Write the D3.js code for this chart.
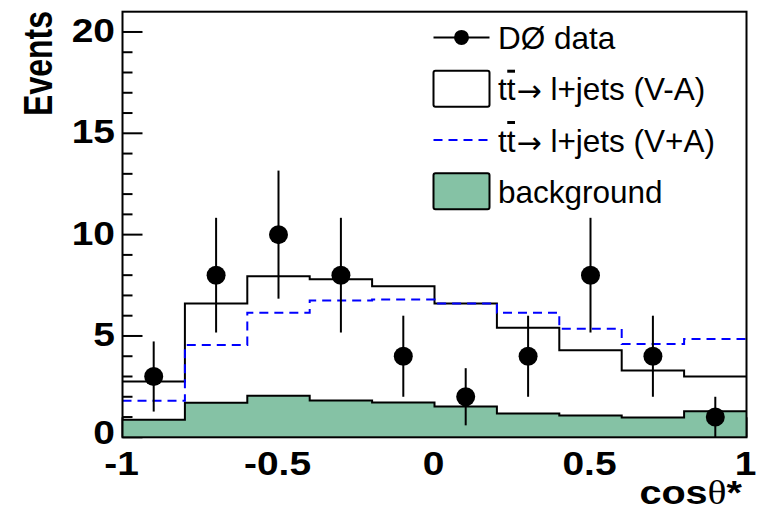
<!DOCTYPE html>
<html>
<head>
<meta charset="utf-8">
<script src="https://cdn.jsdelivr.net/npm/d3@7"></script>
<style>
body { margin: 0; background: #fff; }
svg { display: block; }
</style>
</head>
<body>
<script>
// 0. data (10 bins of width 0.2 in cos theta*)
var binLow = [-1, -0.8, -0.6, -0.4, -0.2, 0, 0.2, 0.4, 0.6, 0.8];
var binHigh = 1;
var vMinusA = [2.75, 6.6, 7.95, 7.8, 7.45, 6.6, 5.4, 4.3, 3.3, 3.0];
var vPlusA = [1.8, 4.55, 6.15, 6.75, 6.8, 6.6, 6.15, 5.35, 4.6, 4.85];
var background = [0.87, 1.7, 2.05, 1.82, 1.72, 1.52, 1.17, 1.08, 0.98, 1.28];
var dataX = [-0.9, -0.7, -0.5, -0.3, -0.1, 0.1, 0.3, 0.5, 0.7, 0.9];
var dataY = [3, 8, 10, 8, 4, 2, 4, 8, 4, 1];
var dataErr = [1.73, 2.83, 3.16, 2.83, 2, 1.41, 2, 2.83, 2, 1];
var xTicks = [-1, -0.5, 0, 0.5, 1];
var xTickLabels = ['-1', '-0.5', '0', '0.5', '1'];
var yTicks = [0, 5, 10, 15, 20];
var legendLabels = ['DØ data', 'l+jets (V-A)', 'l+jets (V+A)', 'background'];

// 1. sizes
var width = 762, height = 510;
var frame = {left: 122.5, right: 746.5, top: 11.7, bottom: 437.3};
var bgColor = '#85c2a5';
var font = "'Liberation Sans', Arial, Helvetica, sans-serif";
var wide = 1.18; // the axis texts of the original are drawn a bit wider than Arial bold

var svg = d3.select('body').append('svg')
    .attr('width', width)
    .attr('height', height);

var x = d3.scaleLinear().domain([-1, 1]).range([frame.left, frame.right]);
var y = d3.scaleLinear().domain([0, 21]).range([frame.bottom, frame.top]);

// helper: histogram as step points (edge, value) + closing point
function stepPoints(vals) {
    var pts = binLow.map(function(e, i) { return [e, vals[i]]; });
    pts.push([binHigh, vals[vals.length - 1]]);
    return pts;
}

// 2. axes ticks (drawn first, the fill hides most of the x ticks like in the original)
var ticksG = svg.append('g').attr('class', 'ticks')
    .attr('stroke', '#000').attr('stroke-width', 2);
d3.range(0, 21).forEach(function(v) {
    var len = (v % 5 === 0) ? 20 : 10;
    ticksG.append('line')
        .attr('x1', frame.left).attr('x2', frame.left + len)
        .attr('y1', y(v)).attr('y2', y(v));
});
d3.range(-1, 1.0001, 0.1).forEach(function(v) {
    var len = (Math.abs(v * 2 - Math.round(v * 2)) < 1e-6) ? 20 : 10;
    ticksG.append('line')
        .attr('x1', x(v)).attr('x2', x(v))
        .attr('y1', frame.bottom).attr('y2', frame.bottom - len);
});

// 3. histograms
var area = d3.area().curve(d3.curveStepAfter)
    .x(function(d) { return x(d[0]); })
    .y0(y(0))
    .y1(function(d) { return y(d[1]); });
var line = d3.line().curve(d3.curveStepAfter)
    .x(function(d) { return x(d[0]); })
    .y(function(d) { return y(d[1]); });

svg.append('path')
    .attr('d', area(stepPoints(background)))
    .attr('fill', bgColor);
svg.append('path')
    .attr('d', line(stepPoints(background)))
    .attr('fill', 'none').attr('stroke', '#000').attr('stroke-width', 2);

svg.append('path')
    .attr('d', line(stepPoints(vMinusA)))
    .attr('fill', 'none').attr('stroke', '#000').attr('stroke-width', 2);

svg.append('path')
    .attr('d', line(stepPoints(vPlusA)))
    .attr('fill', 'none').attr('stroke', '#0000ff').attr('stroke-width', 2)
    .attr('stroke-dasharray', '9,6');

// 4. frame
svg.append('rect')
    .attr('x', frame.left).attr('y', frame.top)
    .attr('width', frame.right - frame.left).attr('height', frame.bottom - frame.top)
    .attr('fill', 'none').attr('stroke', '#000').attr('stroke-width', 2);

// 5. data points with error bars
var pts = svg.append('g').attr('class', 'datapoints');
dataX.forEach(function(v, i) {
    pts.append('line')
        .attr('x1', x(v)).attr('x2', x(v))
        .attr('y1', y(Math.max(0, dataY[i] - dataErr[i])))
        .attr('y2', y(dataY[i] + dataErr[i]))
        .attr('stroke', '#000').attr('stroke-width', 2);
    pts.append('circle')
        .attr('cx', x(v)).attr('cy', y(dataY[i]))
        .attr('r', 9.5).attr('fill', '#000');
});

// 6. tick labels
svg.selectAll('.ylab').data(yTicks).enter().append('text')
    .attr('class', 'ylab')
    .attr('transform', function(d) { return 'translate(115,' + y(d) + ') scale(' + wide + ',1)'; })
    .attr('dy', function(d) { return d === 0 ? '0.2em' : '0.3em'; })
    .attr('text-anchor', 'end')
    .attr('font-family', font).attr('font-weight', 'bold').attr('font-size', 33)
    .text(function(d) { return d; });

svg.selectAll('.xlab').data(xTicks).enter().append('text')
    .attr('class', 'xlab')
    .attr('transform', function(d) { return 'translate(' + (x(d) - 1) + ',475) scale(' + wide + ',1)'; })
    .attr('text-anchor', 'middle')
    .attr('font-family', font).attr('font-weight', 'bold').attr('font-size', 33)
    .text(function(d, i) { return xTickLabels[i]; });

// 7. axis titles
svg.append('text')
    .attr('transform', 'translate(52,11) scale(1.28,1) rotate(-90)')
    .attr('text-anchor', 'end')
    .attr('font-family', font).attr('font-weight', 'bold').attr('font-size', 32)
    .text('Events');

var xt = svg.append('text')
    .attr('transform', 'translate(742,504) scale(1.2,1)')
    .attr('text-anchor', 'end')
    .attr('font-family', font).attr('font-weight', 'bold').attr('font-size', 33);
xt.append('tspan').text('cos');
xt.append('tspan').attr('font-family', "'Liberation Serif', serif").attr('font-weight', 'normal').text('θ');
xt.append('tspan').text('*');

// 8. legend (no border)
var leg = svg.append('g').attr('class', 'legend');
var symL = 433.5, symR = 489.5, txtX = 498;
var rowY = [37.4, 88.7, 140, 191.3];

leg.append('line')
    .attr('x1', symL).attr('x2', symR).attr('y1', rowY[0]).attr('y2', rowY[0])
    .attr('stroke', '#000').attr('stroke-width', 2);
leg.append('circle').attr('cx', (symL + symR) / 2).attr('cy', rowY[0]).attr('r', 7.5).attr('fill', '#000');

leg.append('rect')
    .attr('x', symL).attr('y', rowY[1] - 18).attr('width', symR - symL).attr('height', 36)
    .attr('rx', 2).attr('fill', '#fff').attr('stroke', '#000').attr('stroke-width', 2);

leg.append('line')
    .attr('x1', symL).attr('x2', symR).attr('y1', rowY[2]).attr('y2', rowY[2])
    .attr('stroke', '#0000ff').attr('stroke-width', 2).attr('stroke-dasharray', '9,6');

leg.append('rect')
    .attr('x', symL).attr('y', rowY[3] - 18).attr('width', symR - symL).attr('height', 36)
    .attr('rx', 2).attr('fill', bgColor).attr('stroke', '#000').attr('stroke-width', 2);

legendLabels.forEach(function(lab, i) {
    var t = leg.append('text')
        .attr('x', txtX).attr('y', rowY[i] + 11.5)
        .attr('font-family', font).attr('font-size', 31.5).attr('fill', '#000');
    if (i === 1 || i === 2) {
        // t tbar -> decay label
        t.append('tspan').text('tt');
        t.append('tspan').attr('font-family', "'DejaVu Sans', sans-serif").attr('font-size', 30)
            .attr('dx', 1).attr('dy', 1).text('→');
        t.append('tspan').attr('dy', -1).text(' ' + lab);
        var s = t.node().getStartPositionOfChar(1);
        var e = t.node().getEndPositionOfChar(1);
        leg.append('line')
            .attr('x1', s.x + 0.5).attr('x2', e.x - 0.5)
            .attr('y1', rowY[i] + 11.5 - 29).attr('y2', rowY[i] + 11.5 - 29)
            .attr('stroke', '#000').attr('stroke-width', 3);
    } else {
        t.text(lab);
    }
});
</script>
</body>
</html>
